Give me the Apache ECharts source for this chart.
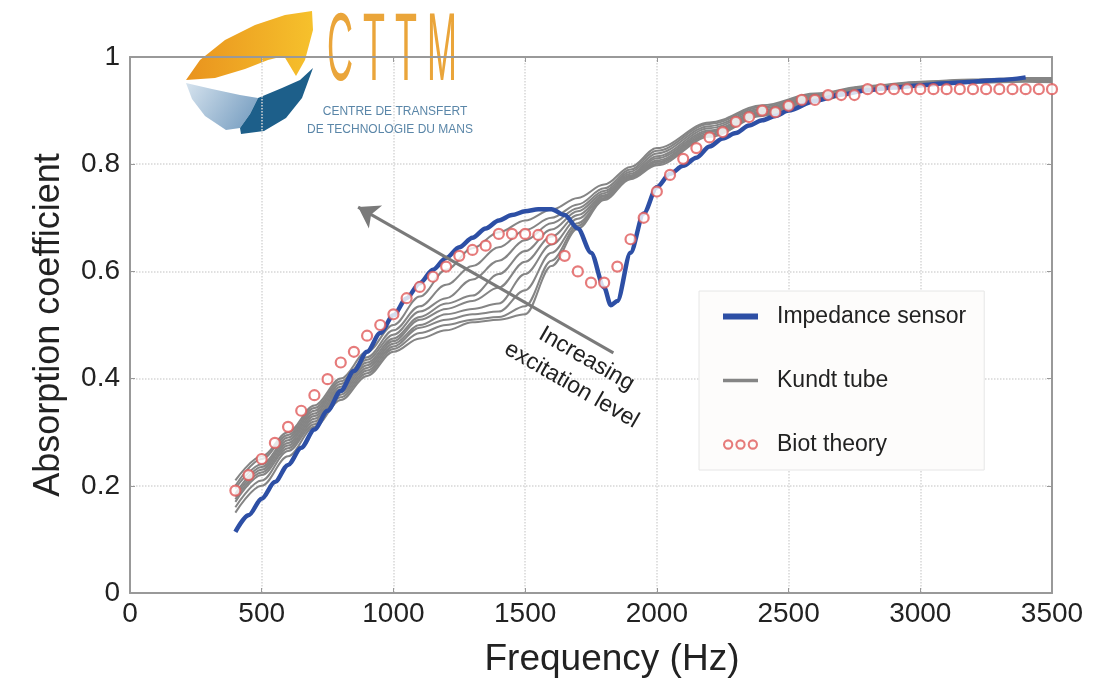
<!DOCTYPE html>
<html>
<head>
<meta charset="utf-8">
<script src="https://cdn.jsdelivr.net/npm/echarts@6/dist/echarts.min.js"></script>
<style>
  html, body { margin: 0; padding: 0; background: #fff; }
  #chart { width: 1101px; height: 678px; }
</style>
</head>
<body>
<div id="chart"></div>
<script>
// Impedance sensor (blue line)
const SENSOR_FREQ = [400, 450, 500, 550, 600, 650, 700, 750, 800, 850, 900, 950, 1000, 1050, 1100, 1150, 1200, 1250, 1300, 1350, 1400, 1450, 1500, 1550, 1600, 1650, 1700, 1750, 1800, 1825, 1850, 1900, 1950, 2000, 2050, 2100, 2150, 2200, 2250, 2300, 2350, 2400, 2450, 2500, 2600, 2700, 2800, 2900, 3000, 3100, 3200, 3300, 3400]
const SENSOR_ALPHA = [0.114, 0.145, 0.176, 0.207, 0.239, 0.271, 0.305, 0.34, 0.377, 0.414, 0.45, 0.485, 0.518, 0.55, 0.578, 0.603, 0.625, 0.645, 0.663, 0.68, 0.695, 0.705, 0.712, 0.716, 0.716, 0.705, 0.68, 0.635, 0.57, 0.537, 0.545, 0.635, 0.708, 0.757, 0.782, 0.797, 0.812, 0.833, 0.848, 0.858, 0.872, 0.882, 0.89, 0.9, 0.918, 0.93, 0.938, 0.943, 0.947, 0.951, 0.954, 0.957, 0.962]

// Biot theory (circles, every 50 Hz)
const BIOT_FREQ = [400, 450, 500, 550, 600, 650, 700, 750, 800, 850, 900, 950, 1000, 1050, 1100, 1150, 1200, 1250, 1300, 1350, 1400, 1450, 1500, 1550, 1600, 1650, 1700, 1750, 1800, 1850, 1900, 1950, 2000, 2050, 2100, 2150, 2200, 2250, 2300, 2350, 2400, 2450, 2500, 2550, 2600, 2650, 2700, 2750, 2800, 2850, 2900, 2950, 3000, 3050, 3100, 3150, 3200, 3250, 3300, 3350, 3400, 3450, 3500]
const BIOT_ALPHA = [0.191, 0.22, 0.25, 0.28, 0.31, 0.34, 0.369, 0.399, 0.43, 0.45, 0.48, 0.5, 0.52, 0.55, 0.571, 0.59, 0.609, 0.629, 0.64, 0.648, 0.67, 0.67, 0.67, 0.668, 0.66, 0.629, 0.6, 0.579, 0.579, 0.609, 0.66, 0.7, 0.749, 0.78, 0.81, 0.83, 0.85, 0.86, 0.879, 0.888, 0.9, 0.897, 0.909, 0.92, 0.92, 0.929, 0.929, 0.929, 0.94, 0.94, 0.94, 0.94, 0.94, 0.94, 0.94, 0.94, 0.94, 0.94, 0.94, 0.94, 0.94, 0.94, 0.94]

// Kundt tube, one curve per excitation level (highest level first)
const KUNDT_FREQ = [400, 500, 600, 700, 800, 900, 1000, 1100, 1200, 1300, 1400, 1500, 1600, 1700, 1800, 1900, 2000, 2200, 2400, 2600, 2800, 3000, 3200, 3400, 3500]
const KUNDT_CURVES = [
  [0.21, 0.255, 0.30, 0.35, 0.40, 0.45, 0.50, 0.553, 0.603, 0.643, 0.673, 0.695, 0.715, 0.737, 0.762, 0.795, 0.83, 0.878, 0.91, 0.932, 0.946, 0.954, 0.958, 0.961, 0.961],
  [0.20, 0.25, 0.295, 0.345, 0.395, 0.44, 0.49, 0.535, 0.575, 0.61, 0.645, 0.677, 0.70, 0.725, 0.755, 0.79, 0.825, 0.875, 0.907, 0.93, 0.945, 0.953, 0.957, 0.96, 0.96],
  [0.195, 0.24, 0.29, 0.34, 0.39, 0.435, 0.482, 0.525, 0.55, 0.585, 0.62, 0.658, 0.69, 0.718, 0.75, 0.786, 0.82, 0.871, 0.904, 0.928, 0.943, 0.952, 0.956, 0.959, 0.959],
  [0.185, 0.235, 0.285, 0.335, 0.385, 0.43, 0.475, 0.515, 0.54, 0.555, 0.595, 0.638, 0.678, 0.712, 0.746, 0.782, 0.815, 0.867, 0.901, 0.926, 0.942, 0.951, 0.955, 0.958, 0.958],
  [0.18, 0.23, 0.28, 0.33, 0.38, 0.425, 0.47, 0.51, 0.53, 0.545, 0.57, 0.618, 0.665, 0.705, 0.742, 0.779, 0.811, 0.863, 0.898, 0.924, 0.941, 0.95, 0.954, 0.957, 0.957],
  [0.175, 0.225, 0.275, 0.325, 0.375, 0.42, 0.465, 0.50, 0.52, 0.53, 0.54, 0.595, 0.65, 0.698, 0.74, 0.777, 0.807, 0.86, 0.896, 0.922, 0.94, 0.949, 0.954, 0.956, 0.956],
  [0.17, 0.22, 0.27, 0.32, 0.37, 0.415, 0.46, 0.495, 0.51, 0.52, 0.525, 0.565, 0.635, 0.69, 0.737, 0.775, 0.804, 0.857, 0.894, 0.92, 0.939, 0.948, 0.953, 0.955, 0.955],
  [0.16, 0.21, 0.265, 0.315, 0.365, 0.41, 0.455, 0.485, 0.50, 0.51, 0.515, 0.535, 0.62, 0.685, 0.735, 0.774, 0.801, 0.854, 0.892, 0.919, 0.938, 0.948, 0.953, 0.955, 0.954],
  [0.15, 0.20, 0.255, 0.31, 0.36, 0.405, 0.45, 0.475, 0.49, 0.505, 0.51, 0.52, 0.61, 0.68, 0.733, 0.772, 0.798, 0.851, 0.89, 0.918, 0.937, 0.947, 0.952, 0.954, 0.953]
]

// annotation arrow (data coords)
const ARROW_FROM = [1835, 0.448]
const ARROW_TO = [866, 0.72]

const FONT = 'Liberation Sans'
const BLUE = '#2d4fa5'
const GREY = '#858585'
const RED = '#e05a5a'

const zip = (xs, ys) => xs.map((x, i) => [x, ys[i]])

const chart = echarts.init(document.getElementById('chart'))

const kundtSeries = KUNDT_CURVES.map(curve => ({
  name: 'Kundt tube',
  type: 'line',
  data: zip(KUNDT_FREQ, curve),
  smooth: 0.35,
  smoothMonotone: 'x',
  symbol: 'none',
  lineStyle: { color: GREY, width: 2 },
  itemStyle: { color: GREY },
  z: 2,
  silent: true
}))

// simple rings for the legend
const ring = cx => `M${cx},5a5,5 0 1,1 10,0a5,5 0 1,1 -10,0z M${cx + 2},5a3,3 0 1,0 6,0a3,3 0 1,0 -6,0z`

const option = {
  animation: false,
  backgroundColor: '#fff',
  textStyle: { fontFamily: FONT },
  grid: { left: 130, right: 49, top: 57, bottom: 85, outerBoundsMode: 'none' },
  xAxis: [{
    type: 'value',
    min: 0, max: 3500, interval: 500,
    name: 'Frequency (Hz)',
    nameLocation: 'middle',
    nameGap: 48,
    nameTextStyle: { fontSize: 37, color: '#222', fontFamily: FONT, padding: [0, 0, 0, 42] },
    axisLine: { show: true, onZero: false, lineStyle: { color: '#999', width: 2 } },
    axisTick: { show: true, inside: true, length: 5, lineStyle: { color: '#999' } },
    axisLabel: { fontSize: 28, color: '#222', margin: 7, fontFamily: FONT, formatter: v => String(v) },
    splitLine: { show: true, lineStyle: { color: '#d6d6d6', type: 'dotted', width: 1.5 } }
  }, {
    type: 'value', position: 'top',
    min: 0, max: 3500, interval: 500,
    axisLine: { show: true, onZero: false, lineStyle: { color: '#999', width: 2 } },
    axisTick: { show: true, inside: true, length: 5, lineStyle: { color: '#999' } },
    axisLabel: { show: false },
    splitLine: { show: false }
  }],
  yAxis: [{
    type: 'value',
    min: 0, max: 1, interval: 0.2,
    name: 'Absorption coefficient',
    nameLocation: 'middle',
    nameGap: 63,
    nameTextStyle: { fontSize: 36, color: '#222', fontFamily: FONT },
    axisLine: { show: true, onZero: false, lineStyle: { color: '#999', width: 2 } },
    axisTick: { show: true, inside: true, length: 5, lineStyle: { color: '#999' } },
    axisLabel: { fontSize: 28, color: '#222', margin: 10, fontFamily: FONT },
    splitLine: { show: true, lineStyle: { color: '#d6d6d6', type: 'dotted', width: 1.5 } }
  }, {
    type: 'value', position: 'right',
    min: 0, max: 1, interval: 0.2,
    axisLine: { show: true, onZero: false, lineStyle: { color: '#999', width: 2 } },
    axisTick: { show: true, inside: true, length: 5, lineStyle: { color: '#999' } },
    axisLabel: { show: false },
    splitLine: { show: false }
  }],
  legend: {
    orient: 'vertical',
    left: 699,
    top: 291,
    padding: [14, 18, 14, 24],
    itemGap: 41,
    itemWidth: 35,
    itemHeight: 14,
    symbolKeepAspect: true,
    backgroundColor: '#fdfcfb',
    borderColor: '#e6e6e6',
    borderWidth: 1,
    selectedMode: false,
    formatter: '{t|{name}}',
    textStyle: {
      rich: { t: { fontSize: 23, color: '#222', fontFamily: FONT, padding: [0, 0, 0, 14] } }
    },
    data: [
      { name: 'Impedance sensor', icon: 'path://M0,0h30v5h-30z', itemStyle: { color: BLUE, borderWidth: 0 } },
      { name: 'Kundt tube', icon: 'path://M0,0h30v3h-30z', itemStyle: { color: GREY, borderWidth: 0 } },
      { name: 'Biot theory', icon: 'path://' + ring(0) + ' ' + ring(12) + ' ' + ring(24), itemStyle: { color: RED, borderWidth: 0 } }
    ]
  },
  series: [
    ...kundtSeries,
    {
      name: 'Impedance sensor',
      type: 'line',
      data: zip(SENSOR_FREQ, SENSOR_ALPHA),
      smooth: 0.3,
      smoothMonotone: 'x',
      symbol: 'none',
      lineStyle: { color: BLUE, width: 4.5 },
      itemStyle: { color: BLUE },
      z: 3,
      markLine: {
        silent: true,
        symbol: ['none', 'arrow'],
        symbolSize: 20,
        label: { show: false },
        lineStyle: { color: '#7a7a7a', width: 3, type: 'solid' },
        data: [[{ coord: ARROW_FROM }, { coord: ARROW_TO }]]
      }
    },
    {
      name: 'Biot theory',
      type: 'scatter',
      data: zip(BIOT_FREQ, BIOT_ALPHA),
      symbol: 'circle',
      symbolSize: 10,
      itemStyle: { color: '#fff', borderColor: RED, borderWidth: 2.2 },
      z: 4
    }
  ],
  graphic: [
    {
      type: 'text',
      x: 579, y: 372,
      rotation: -Math.PI / 6,
      z: 50,
      style: {
        text: 'Increasing\nexcitation level',
        fontSize: 23, fontFamily: FONT, fill: '#222',
        align: 'center', verticalAlign: 'middle', lineHeight: 30
      }
    },
    // CTTM logo, drawn roughly
    {
      type: 'group',
      z: 100,
      children: [
        { type: 'rect', shape: { x: 185, y: 10, width: 325, height: 133 }, style: { fill: '#fff' } },
        {
          type: 'polygon',
          shape: { points: [[186, 80], [200, 60], [225, 40], [255, 25], [285, 15], [312, 11], [313, 30], [305, 60], [296, 76], [284, 56], [268, 60], [245, 69], [215, 78]] },
          style: { fill: new echarts.graphic.LinearGradient(0, 0, 1, 0, [{ offset: 0, color: '#e9931e' }, { offset: 1, color: '#f6c12c' }]) }
        },
        {
          type: 'polygon',
          shape: { points: [[186, 83], [212, 89], [240, 95], [258, 98], [250, 114], [240, 128], [226, 130], [205, 116], [192, 99]] },
          style: { fill: new echarts.graphic.LinearGradient(0, 0, 1, 1, [{ offset: 0, color: '#d6e3ee' }, { offset: 1, color: '#6f98bd' }]) }
        },
        {
          type: 'polygon',
          shape: { points: [[258, 98], [282, 88], [300, 80], [313, 68], [302, 98], [286, 118], [264, 131], [241, 134], [240, 128], [250, 114]] },
          style: { fill: '#1d5f8a' }
        },
        {
          type: 'text', x: 392, y: 54,
          scaleX: 0.62, scaleY: 1.65,
          style: { text: 'C T T M', fontSize: 58, fontFamily: FONT, fill: '#eaa53a', align: 'center', verticalAlign: 'middle' }
        },
        {
          type: 'text', x: 395, y: 112,
          style: { text: 'CENTRE DE TRANSFERT', fontSize: 12, fontFamily: FONT, fill: '#5a86a8', align: 'center', verticalAlign: 'middle' }
        },
        {
          type: 'text', x: 390, y: 130,
          style: { text: 'DE TECHNOLOGIE DU MANS', fontSize: 12, fontFamily: FONT, fill: '#5a86a8', align: 'center', verticalAlign: 'middle' }
        }
      ]
    }
  ]
}

chart.setOption(option)
</script>
</body>
</html>
